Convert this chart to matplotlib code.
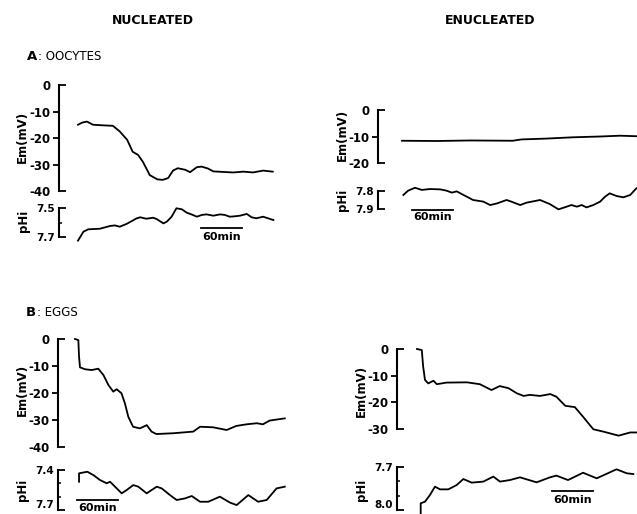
import matplotlib
matplotlib.use("Agg")
import matplotlib.pyplot as plt
from matplotlib.ticker import FixedLocator, FuncFormatter

plt.rcParams["font.family"] = "DejaVu Sans"
plt.rcParams["font.weight"] = "bold"
plt.rcParams["axes.unicode_minus"] = False

# --- Data (time in min from start of trace) ---
A_NUC_EM_T = [0, 6, 13, 22, 35, 51, 61, 72, 80, 88, 95, 105, 116, 124, 132, 139, 146, 157, 164, 174,
              181, 190, 198, 212, 227, 242, 256, 271, 285]
A_NUC_EM = [-15.0, -14.2, -13.8, -15.0, -15.2, -15.4, -17.5, -20.7, -25.2, -26.4, -29.0, -34.0, -35.6,
            -35.8, -35.1, -32.3, -31.4, -32.0, -32.9, -31.0, -30.8, -31.5, -32.6, -32.8, -33.0, -32.7,
            -33.0, -32.3, -32.7]
A_NUC_PH_T = [0, 8, 15, 32, 47, 54, 61, 71, 86, 91, 100, 110, 115, 125, 130, 137, 144, 152, 159, 166,
              174, 181, 188, 198, 208, 215, 222, 230, 237, 247, 254, 261, 271, 278, 286]
A_NUC_PH = [7.725, 7.663, 7.647, 7.643, 7.624, 7.620, 7.629, 7.610, 7.571, 7.564, 7.574, 7.567, 7.576,
            7.606, 7.594, 7.560, 7.502, 7.509, 7.532, 7.544, 7.560, 7.548, 7.544, 7.553, 7.544, 7.548,
            7.560, 7.557, 7.553, 7.541, 7.564, 7.571, 7.560, 7.571, 7.583]

A_ENUC_EM_T = [0, 50, 100, 162, 175, 210, 250, 290, 319, 344]
A_ENUC_EM = [-11.6, -11.7, -11.5, -11.6, -11.1, -10.8, -10.3, -10.0, -9.7, -9.9]
A_ENUC_PH_T = [2, 9, 19, 29, 41, 56, 65, 73, 80, 90, 104, 119, 129, 139, 153, 160, 173, 182, 202, 216,
               229, 241, 248, 256, 263, 270, 280, 290, 297, 304, 314, 324, 334, 343]
A_ENUC_PH = [7.822, 7.798, 7.782, 7.794, 7.789, 7.791, 7.798, 7.809, 7.802, 7.822, 7.850, 7.859, 7.878,
             7.869, 7.850, 7.859, 7.878, 7.865, 7.850, 7.872, 7.902, 7.887, 7.878, 7.887, 7.878, 7.891,
             7.878, 7.859, 7.832, 7.813, 7.828, 7.835, 7.822, 7.785]

B_NUC_EM_T = [0, 4.9, 5.9, 7.3, 14.6, 24.4, 34, 41.5, 48.8, 56, 61, 68, 73, 78, 85, 95, 105, 112, 119,
              144, 173, 183, 202, 222, 236, 251, 266, 275, 285, 307]
B_NUC_EM = [0, -0.4, -6.5, -10.5, -11.2, -11.5, -11.0, -13.3, -17.0, -19.5, -18.6, -20.1, -23.8, -28.8,
            -32.5, -33.1, -31.9, -34.3, -35.2, -34.9, -34.3, -32.5, -32.7, -33.7, -32.2, -31.6, -31.2,
            -31.6, -30.2, -29.4]
B_NUC_PH_T = [5.9, 5.9, 18, 26.8, 36.6, 46.4, 51.2, 58.5, 68.3, 75.7, 85.3, 92.6, 104.9, 119.6, 126.9,
              139, 148.8, 161, 170.8, 183, 195, 212, 227, 236.6, 253.6, 268, 280.5, 295, 307]
B_NUC_PH = [7.488, 7.425, 7.413, 7.438, 7.475, 7.500, 7.488, 7.525, 7.575, 7.550, 7.513, 7.525, 7.575,
            7.525, 7.538, 7.588, 7.625, 7.613, 7.595, 7.638, 7.638, 7.600, 7.645, 7.663, 7.588, 7.638,
            7.625, 7.538, 7.525]

B_ENUC_EM_T = [0, 7, 9, 11.7, 16.5, 24, 29, 43, 73, 92, 109, 121, 134, 146, 156, 165, 180, 195, 204,
               217, 231, 243, 258, 273, 295, 312, 321]
B_ENUC_EM = [0, -0.4, -6.6, -11.6, -12.9, -11.9, -13.2, -12.6, -12.5, -13.2, -15.4, -13.9, -14.7, -16.6,
             -17.6, -17.2, -17.6, -16.9, -17.9, -21.3, -21.8, -25.4, -30.1, -31.0, -32.5, -31.3, -31.3]
B_ENUC_PH_T = [5.4, 5.4, 11.7, 19, 26.3, 33.7, 45.8, 58, 67.8, 80, 97, 111.7, 121.5, 136, 150.7, 175,
               194.6, 204, 221, 243, 263, 292, 307, 316.6]
B_ENUC_PH = [8.03, 7.953, 7.942, 7.895, 7.837, 7.856, 7.856, 7.826, 7.784, 7.809, 7.802, 7.767, 7.802,
             7.791, 7.772, 7.807, 7.772, 7.760, 7.791, 7.740, 7.779, 7.716, 7.744, 7.749]

# --- Layout (pixels of the 637x514 figure) ---
W, H = 637, 514
PX_PER_MIN = 41 / 60
LW = 1.3

fig = plt.figure(figsize=(W / 100, H / 100), dpi=100, facecolor="white")


def trace_axes(spine_px, start_px, top_px, bot_px, right_px):
    ax = fig.add_axes([spine_px / W, 1 - bot_px / H, (right_px - spine_px) / W, (bot_px - top_px) / H])
    ax.set_xlim(-(start_px - spine_px) / PX_PER_MIN, (right_px - start_px) / PX_PER_MIN)
    for s in ("top", "right", "bottom"):
        ax.spines[s].set_visible(False)
    ax.spines["left"].set_linewidth(1.5)
    ax.set_xticks([])
    ax.patch.set_visible(False)
    return ax


def em_ticks(ax, lo, hi, mids):
    ax.set_ylim(lo, hi)
    ax.yaxis.set_major_locator(FixedLocator([lo, hi]))
    ax.yaxis.set_minor_locator(FixedLocator(mids))
    fmt = FuncFormatter(lambda v, p: f"{v:g}")
    ax.yaxis.set_major_formatter(fmt)
    ax.yaxis.set_minor_formatter(fmt)
    ax.tick_params(which="major", direction="in", length=5, width=1.3, pad=6, labelsize=8.5)
    ax.tick_params(which="minor", direction="out", length=4, width=1.3, pad=2, labelsize=8.5)


def ph_ticks(ax, top, bot, mids, lift_bottom=False):
    ax.set_ylim(bot, top)
    ax.yaxis.set_major_locator(FixedLocator([top, bot]))
    ax.yaxis.set_minor_locator(FixedLocator(mids))
    ax.yaxis.set_major_formatter(FuncFormatter(lambda v, p: f"{v:.1f}"))
    ax.tick_params(which="major", direction="in", length=5, width=1.3, pad=3, labelsize=7.5)
    ax.tick_params(which="minor", direction="in", length=2.5, width=1.1)
    if lift_bottom:
        # bottom label sits on the figure edge; keep it inside
        ax.yaxis.get_major_ticks()[1].label1.set_va("bottom")


def scale_bar(ax, t0, y_bar, y_text):
    ax.plot([t0, t0 + 60], [y_bar, y_bar], color="black", lw=1.3, clip_on=False)
    ax.text(t0 + 30, y_text, "60min", ha="center", va="top", fontsize=8, clip_on=False)


def trace(ax, t, v):
    ax.plot(t, v, color="black", lw=LW, clip_on=False, solid_joinstyle="round")


# A nucleated
ax = trace_axes(59, 78, 85, 191, 300)
em_ticks(ax, -40, 0, [-30, -20, -10])
trace(ax, A_NUC_EM_T, A_NUC_EM)
ax = trace_axes(59, 78, 208, 237, 300)
ph_ticks(ax, 7.5, 7.7, [7.6])
trace(ax, A_NUC_PH_T, A_NUC_PH)
scale_bar(ax, 180, 7.638, 7.668)

# A enucleated
ax = trace_axes(378, 402, 110, 163, W)
em_ticks(ax, -20, 0, [-10])
trace(ax, A_ENUC_EM_T, A_ENUC_EM)
ax = trace_axes(378, 402, 191, 209, W)
ph_ticks(ax, 7.8, 7.9, [])
trace(ax, A_ENUC_PH_T, A_ENUC_PH)
scale_bar(ax, 14.6, 7.906, 7.915)

# B nucleated
ax = trace_axes(58, 75, 339, 447, 300)
em_ticks(ax, -40, 0, [-30, -20, -10])
trace(ax, B_NUC_EM_T, B_NUC_EM)
ax = trace_axes(58, 75, 470, 510, 300)
ph_ticks(ax, 7.4, 7.7, [7.5, 7.6], lift_bottom=True)
trace(ax, B_NUC_PH_T, B_NUC_PH)
scale_bar(ax, 3, 7.625, 7.65)

# B enucleated
ax = trace_axes(397, 417, 349, 429, W)
em_ticks(ax, -30, 0, [-20, -10])
trace(ax, B_ENUC_EM_T, B_ENUC_EM)
ax = trace_axes(397, 417, 467, 510, W)
ph_ticks(ax, 7.7, 8.0, [7.8, 7.9], lift_bottom=True)
trace(ax, B_ENUC_PH_T, B_ENUC_PH)
scale_bar(ax, 197.5, 7.867, 7.895)

# --- Text ---
def ftext(x, y, s, **kw):
    fig.text(x / W, 1 - y / H, s, **kw)


ftext(153, 20, "NUCLEATED", ha="center", va="center", fontsize=9)
ftext(490, 20, "ENUCLEATED", ha="center", va="center", fontsize=9)
ftext(27, 56, "A", ha="left", va="center", fontsize=9.5)
ftext(38, 56, ": OOCYTES", ha="left", va="center", fontsize=8.5, fontweight="normal")
ftext(26, 313, "B", ha="left", va="center", fontsize=9.5)
ftext(37, 313, ": EGGS", ha="left", va="center", fontsize=8.5, fontweight="normal")

for x, y, s in [(22, 137, "Em(mV)"), (24, 221, "pHi"), (342, 135, "Em(mV)"), (342, 200, "pHi"),
                (22, 390, "Em(mV)"), (22, 490, "pHi"), (361, 391, "Em(mV)"), (362, 490, "pHi")]:
    ftext(x, y, s, ha="center", va="center", rotation=90, fontsize=8.5)

fig.savefig("out.png", dpi=100, facecolor="white")
